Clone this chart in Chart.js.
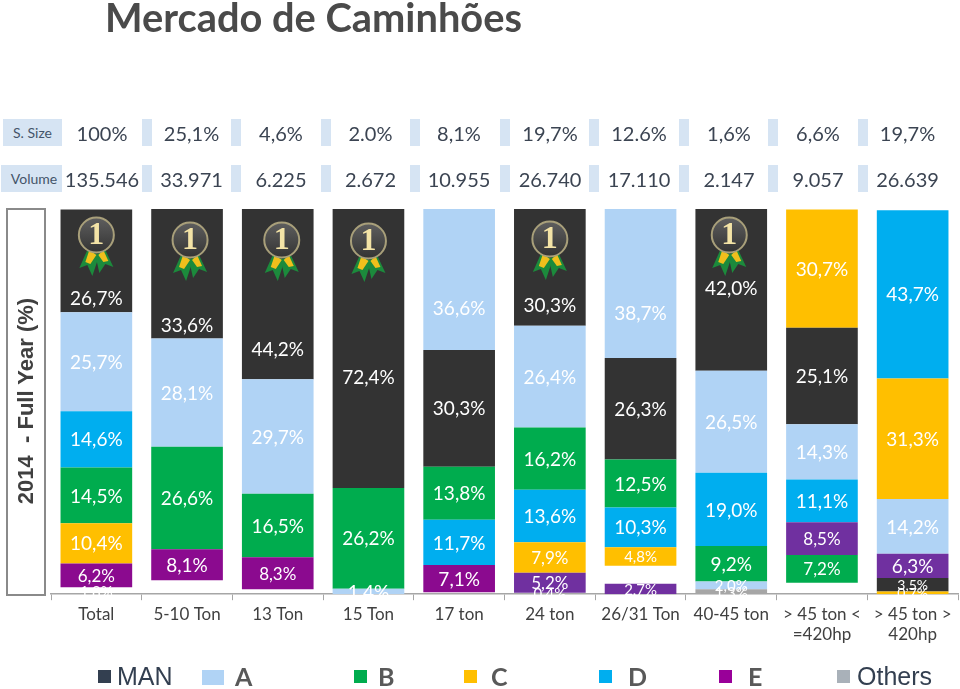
<!DOCTYPE html>
<html>
<head>
<meta charset="utf-8">
<title>Mercado de Caminhões</title>
<script src="https://cdn.jsdelivr.net/npm/chart.js@4"></script>
<style>
  html, body { margin: 0; padding: 0; background: #fff; }
  #page { position: relative; width: 960px; height: 689px; overflow: hidden; font-family: Lato, sans-serif; color: #3b4452; }
  #page div { position: absolute; white-space: nowrap; }
  canvas { position: absolute; left: 0; top: 0; }
  #title { left: 105px; top: -7px; font-size: 39.8px; font-weight: 700; color: #4a4a4a; }
  .cell { background: #d6e4f3; height: 27px; }
  .rowLabel { font-size: 14px; line-height: 27px; text-align: center; color: #44546a; }
  .val { font-size: 20px; line-height: 28px; transform: translateX(-50%); }
  #sideBox { left: 6px; top: 208px; width: 36px; height: 384px; border: 2px solid #8a8a8a; }
  #sideText { left: 26px; top: 401px; transform: translate(-50%, -50%) rotate(-90deg); font: bold 22px "Liberation Sans", sans-serif; color: #404040; white-space: pre !important; }
  .sw { width: 13px; height: 13px; top: 670px; }
  .lg { top: 660px; font: 25px/32px "Liberation Sans", sans-serif; color: #595959; }
  .lg.brand { font: bold 25px/32px Lato, sans-serif; }
</style>
</head>
<body>
<div id="page">
  <canvas id="chart" width="960" height="689"></canvas>
  <div id="title">Mercado de Caminhões</div>
  <div id="sideBox"></div>
  <div id="sideText">2014  - Full Year (%)</div>
</div>
<script>
const categories = ['Total', '5-10 Ton', '13 Ton', '15 Ton', '17 ton', '24 ton', '26/31 Ton', '40-45 ton', ['> 45 ton <', '=420hp'], ['> 45 ton >', '420hp']]
const shareRow = ['100%', '25,1%', '4,6%', '2.0%', '8,1%', '19,7%', '12.6%', '1,6%', '6,6%', '19,7%']
const volumeRow = ['135.546', '33.971', '6.225', '2.672', '10.955', '26.740', '17.110', '2.147', '9.057', '26.639']

// segments of each column, top of the stack first. the order changes per column
const totalVals = [['MAN', 26.7], ['A', 25.7], ['D', 14.6], ['B', 14.5], ['C', 10.4], ['E', 6.2], ['hidden', 1.8]]
const ton5Vals = [['MAN', 33.6], ['A', 28.1], ['B', 26.6], ['E', 8.1], ['hidden', 3.6]]
const ton13Vals = [['MAN', 44.2], ['A', 29.7], ['B', 16.5], ['E', 8.3], ['hidden', 1.3]]
const ton15Vals = [['MAN', 72.4], ['B', 26.2], ['A', 1.4]]
const ton17Vals = [['A', 36.6], ['MAN', 30.3], ['B', 13.8], ['D', 11.7], ['E', 7.1], ['hidden', 0.5]]
const ton24Vals = [['MAN', 30.3], ['A', 26.4], ['B', 16.2], ['D', 13.6], ['C', 7.9], ['E2', 5.2], ['hidden', 0.4]]
const ton26Vals = [['A', 38.7], ['MAN', 26.3], ['B', 12.5], ['D', 10.3], ['C', 4.8], ['hidden', 4.7], ['E2', 2.7]]
const ton40Vals = [['MAN', 42.0], ['A', 26.5], ['D', 19.0], ['B', 9.2], ['A', 2.0], ['Others', 1.3]]
const ton45lowVals = [['C', 30.7], ['MAN', 25.1], ['A', 14.3], ['D', 11.1], ['E2', 8.5], ['B', 7.2], ['hidden', 3.0]]
const ton45highVals = [['D', 43.7], ['C', 31.3], ['A', 14.2], ['E2', 6.3], ['MAN', 3.5], ['C', 0.7]]
const columns = [totalVals, ton5Vals, ton13Vals, ton15Vals, ton17Vals, ton24Vals, ton26Vals, ton40Vals, ton45lowVals, ton45highVals]

// label font size per segment, same order as above. 0 = no label
const labelSizes = [
    [19, 19, 19, 19, 19, 17, 15],
    [19, 19, 19, 19, 0],
    [19, 19, 19, 17, 0],
    [19, 19, 19],
    [19, 19, 19, 19, 19, 0],
    [19, 19, 19, 19, 17, 17, 15],
    [19, 19, 19, 19, 15, 0, 15],
    [19, 19, 19, 19, 15, 15],
    [19, 19, 19, 19, 17, 17, 0],
    [19, 19, 19, 19, 14, 14]
]
// the top label sits below the medal, px down from the segment middle
const topLabelShift = [37, 51, 55, 28, 28, 38, 29, -2, 0, 0]

const colours = {MAN: '#333333', A: '#b0d3f5', B: '#00ac4e', C: '#ffbf00', D: '#00aeef', E: '#8b0a8f', E2: '#7030a0', Others: '#a6a6a6', hidden: 'rgba(255,255,255,0)'}

const legendItems = [
  {name: 'MAN', box: 98, w: 13, h: 13, text: 117, col: '#333f50', txt: '#333f50'},
  {name: 'A', box: 202, w: 22, h: 15, text: 235, col: '#b0d3f5'},
  {name: 'B', box: 354, w: 13, h: 13, text: 378, col: '#00ac4e'},
  {name: 'C', box: 464, w: 13, h: 13, text: 491, col: '#ffbf00'},
  {name: 'D', box: 599, w: 13, h: 13, text: 628, col: '#00aeef'},
  {name: 'E', box: 719, w: 13, h: 13, text: 748, col: '#990099'},
  {name: 'Others', box: 837, w: 13, h: 13, text: 857, col: '#a9b1b9', txt: '#333f50'}
]
const medals = [{i: 0, dy: 26}, {i: 1, dy: 31, dx: 3}, {i: 2, dy: 31, dx: 4}, {i: 3, dy: 32}, {i: 5, dy: 30}, {i: 7, dy: 26, dx: -2}]

// table rows on top of the chart
const page = document.getElementById('page')
const sepX = [142, 231, 321, 410, 500, 589, 679, 768, 858]
const valX = [102, 191.5, 281, 370.5, 459, 550, 639, 729, 818, 907.5]
function addDiv(cls, css, text) {
    let d = document.createElement('div')
    d.className = cls
    d.style.cssText = css
    if (text) d.textContent = text
    page.appendChild(d)
}
function addRow(top, label, labelLeft, indent, vals) {
    addDiv('cell rowLabel', `left:${labelLeft}px;top:${top}px;width:${62 - labelLeft}px;text-indent:${indent}px`, label)
    sepX.forEach(x => addDiv('cell', `left:${x}px;top:${top}px;width:10px`))
    vals.forEach((v, i) => addDiv('val', `left:${valX[i]}px;top:${top}px`, v))
}
addRow(119, 'S. Size', 3, 0, shareRow)
addRow(165, 'Volume', 1, 5, volumeRow)
legendItems.forEach(l => {
    addDiv('sw', `left:${l.box}px;width:${l.w}px;height:${l.h}px;background:${l.col}`)
    addDiv(l.txt ? 'lg' : 'lg brand', `left:${l.text}px;` + (l.txt ? `color:${l.txt}` : ''), l.name)
})

// one dataset per stack layer, the layer's colour changes from column to column
let maxLayers = Math.max(...columns.map(c => c.length))
let datasets = []
for (let layer = 0; layer < maxLayers; layer++) {
    datasets.push({
        data: columns.map(c => { let s = c[c.length - 1 - layer]; return s ? s[1] : 0 }),
        backgroundColor: columns.map(c => { let s = c[c.length - 1 - layer]; return s ? colours[s[0]] : 'transparent' }),
        barPercentage: 0.79,
        categoryPercentage: 1
    })
}

const labelPlugin = {
    id: 'segLabels',
    afterDatasetsDraw(chart) {
        let ctx = chart.ctx
        ctx.save()
        ctx.textAlign = 'center'
        ctx.textBaseline = 'middle'
        ctx.fillStyle = '#ffffff'
        chart.data.datasets.forEach((ds, d) => {
            chart.getDatasetMeta(d).data.forEach((bar, i) => {
                let v = ds.data[i]
                if (!v) return
                let seg = columns[i].length - 1 - d
                let size = labelSizes[i][seg]
                if (!size) return
                let shift = seg === 0 ? topLabelShift[i] : 0
                ctx.font = size + 'px Lato'
                ctx.fillText(v.toFixed(1).replace('.', ',') + '%', bar.x, (bar.y + bar.base) / 2 + shift + 1)
            })
        })
        ctx.restore()
    }
}

function poly(ctx, cx, cy, colour, pts) {
    ctx.fillStyle = colour
    ctx.beginPath()
    pts.forEach((p, n) => n ? ctx.lineTo(cx + p[0], cy + p[1]) : ctx.moveTo(cx + p[0], cy + p[1]))
    ctx.closePath()
    ctx.fill()
}

const medalPlugin = {
    id: 'medals',
    afterDatasetsDraw(chart) {
        let ctx = chart.ctx
        let bars = chart.getDatasetMeta(0).data
        medals.forEach(m => {
            let cx = bars[m.i].x + (m.dx || 0)
            let cy = chart.chartArea.top + m.dy
            ctx.save()
            poly(ctx, cx, cy, '#1c8a3c', [[-9, 15], [-17, 33], [-9, 30], [-4, 41], [3, 20]])
            poly(ctx, cx, cy, '#1c8a3c', [[9, 15], [17, 32], [9, 29], [3, 38], [-1, 20]])
            poly(ctx, cx, cy, '#f0bf1c', [[-7, 15], [-11, 27], [-6, 29], [0, 20]])
            poly(ctx, cx, cy, '#f0bf1c', [[7, 15], [12, 26], [7, 27], [2, 20]])
            let g = ctx.createLinearGradient(0, cy - 18, 0, cy + 18)
            g.addColorStop(0, '#5f5f5f')
            g.addColorStop(1, '#333333')
            ctx.beginPath()
            ctx.arc(cx, cy, 17.5, 0, Math.PI * 2)
            ctx.fillStyle = g
            ctx.fill()
            ctx.lineWidth = 2
            ctx.strokeStyle = '#a89f7a'
            ctx.stroke()
            ctx.fillStyle = '#f3e3a6'
            ctx.font = 'bold 32px "Liberation Serif"'
            ctx.textAlign = 'center'
            ctx.textBaseline = 'middle'
            ctx.fillText('1', cx, cy + 1)
            ctx.restore()
        })
    }
}

var marketChart = new Chart(document.getElementById('chart').getContext('2d'), {
    type: 'bar',
    data: {labels: categories, datasets: datasets},
    plugins: [labelPlugin, medalPlugin],
    options: {
        responsive: false,
        animation: false,
        layout: {padding: {left: 51, right: 2, top: 209, bottom: 40}},
        plugins: {legend: {display: false}, tooltip: {enabled: false}},
        scales: {
            x: {
                stacked: true,
                border: {color: '#a6a6a6', width: 1.5},
                grid: {drawOnChartArea: false, color: '#a6a6a6', tickLength: 6, offset: true},
                ticks: {color: '#404040', font: {family: 'Lato', size: 17}, maxRotation: 0, autoSkip: false, padding: 4}
            },
            y: {stacked: true, display: false, min: 0, max: 100}
        }
    }
})
</script>
</body>
</html>
